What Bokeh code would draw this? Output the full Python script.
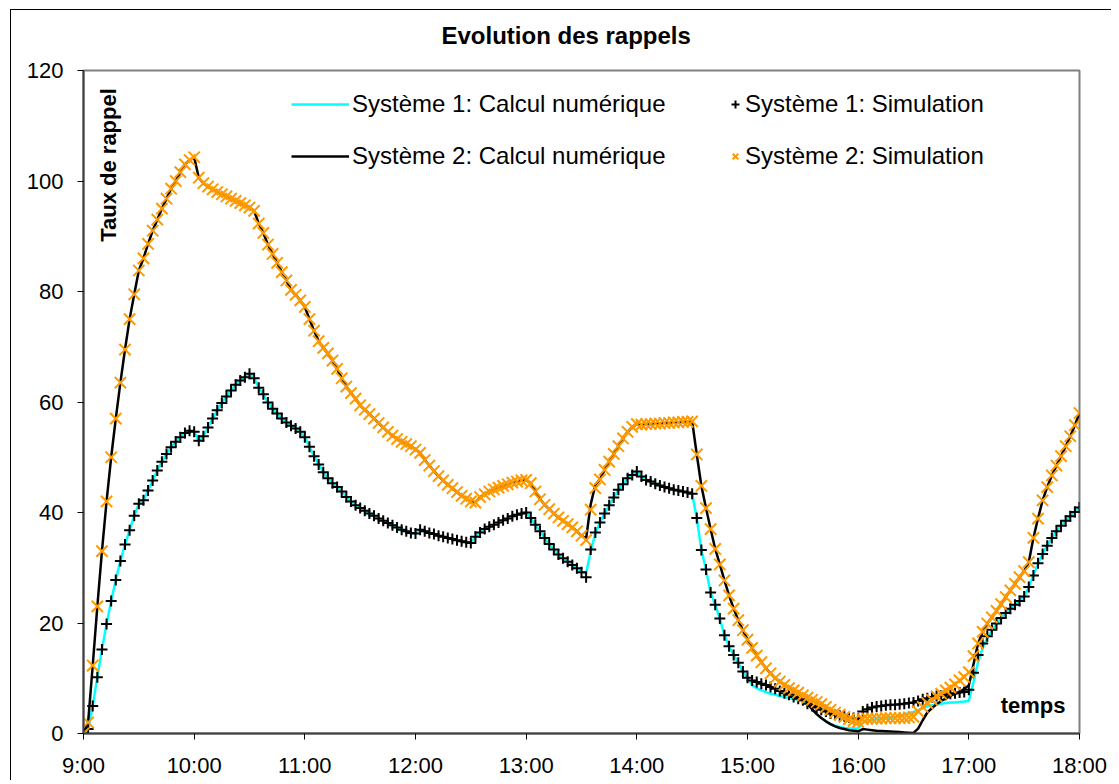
import math
from bokeh.plotting import figure
from bokeh.models import FixedTicker, Label, Legend, LegendItem
from bokeh.embed import file_html
from bokeh.resources import INLINE

# ---------------- data ----------------
STEP_MIN = 2.5          # sampling step of the simulation (minutes)
START_HOUR = 9
N_POINTS = 217
times = [START_HOUR + k * STEP_MIN / 60 for k in range(N_POINTS)]

hour_ticks = [9, 10, 11, 12, 13, 14, 15, 16, 17, 18]
hour_labels = ["9:00", "10:00", "11:00", "12:00", "13:00", "14:00", "15:00", "16:00", "17:00", "18:00"]
y_ticks = [0, 20, 40, 60, 80, 100, 120]

# Système 1 : simulation (black +)
sim1 = [
    0, 0.8, 5, 10.2, 15.2, 19.8, 24, 27.8, 31.2, 34.2,
    36.8, 39.4, 41.6, 42.2, 44, 45.8, 47.6, 49.2, 50.6, 51.8,
    52.8, 53.6, 54.4, 54.8, 54.6, 53, 53.8, 55.4, 57, 58.5,
    59.8, 61, 62.1, 63.1, 63.9, 64.5, 65.1, 64.3, 62.6, 61.4,
    59.9, 58.8, 57.9, 57, 56.3, 55.7, 55.2, 54.6, 53.6, 51.9,
    50.2, 48.7, 47.3, 46.2, 45.3, 44.6, 43.8, 42.8, 42, 41.3,
    40.8, 40.3, 39.8, 39.4, 38.9, 38.5, 38.1, 37.7, 37.3, 36.9,
    36.6, 36.3, 36.2, 36.9, 36.6, 36.3, 36.1, 35.8, 35.6, 35.4,
    35.2, 35, 34.8, 34.6, 34.5, 35.6, 36.4, 37, 37.4, 37.8,
    38.2, 38.6, 38.9, 39.3, 39.6, 39.8, 40, 39, 37.8, 36.6,
    35.4, 34.3, 33.3, 32.4, 31.7, 31.1, 30.5, 29.9, 29.2, 28.3,
    33.3, 36.4, 38.2, 39.8, 41.3, 42.7, 44.1, 45.1, 46.2, 46.8,
    47.4, 46.5, 45.9, 45.6, 45.2, 44.9, 44.6, 44.4, 44.1, 44,
    43.8, 43.6, 43.4, 39, 33.2, 29.7, 25.5, 23.3, 20.8, 17.8,
    15.8, 14.2, 12.8, 11.2, 10.1, 9.6, 9.3, 9, 8.8, 8.4,
    8.1, 7.7, 7.3, 7, 6.6, 6.3, 6, 5.4, 5, 4.7,
    4.3, 4, 3.6, 3.4, 3.2, 3.1, 2.9, 2.8, 2.7, 4,
    4.4, 4.7, 4.9, 5, 5.1, 5.2, 5.2, 5.3, 5.4, 5.5,
    5.6, 5.9, 6.2, 6.4, 6.6, 6.8, 6.9, 7, 7.2, 7.3,
    7.4, 7.5, 7.9, 11, 14.2, 16.3, 17.6, 18.8, 19.9, 20.9,
    21.8, 22.6, 23.3, 24, 24.8, 26.5, 28.6, 30.8, 32.5, 34,
    35.4, 36.6, 37.6, 38.5, 39.3, 40.1, 40.9,
]

# Système 1 : calcul numérique (cyan line)
num1 = [
    0, 0.8, 5, 10.2, 15.2, 19.8, 24, 27.8, 31.2, 34.2,
    36.8, 39.4, 41.6, 42.2, 44, 45.8, 47.6, 49.2, 50.6, 51.8,
    52.8, 53.6, 54.4, 54.8, 54.6, 53, 53.8, 55.4, 57, 58.5,
    59.8, 61, 62.1, 63.1, 63.9, 64.5, 65.1, 64.3, 62.6, 61.4,
    59.9, 58.8, 57.9, 57, 56.3, 55.7, 55.2, 54.6, 53.6, 51.9,
    50.2, 48.7, 47.3, 46.2, 45.3, 44.6, 43.8, 42.8, 42, 41.3,
    40.8, 40.3, 39.8, 39.4, 38.9, 38.5, 38.1, 37.7, 37.3, 36.9,
    36.6, 36.3, 36.2, 36.9, 36.6, 36.3, 36.1, 35.8, 35.6, 35.4,
    35.2, 35, 34.8, 34.6, 34.5, 35.6, 36.4, 37, 37.4, 37.8,
    38.2, 38.6, 38.9, 39.3, 39.6, 39.8, 40, 39, 37.8, 36.6,
    35.4, 34.3, 33.3, 32.4, 31.7, 31.1, 30.5, 29.9, 29.2, 29.0,
    33.0, 36.2, 38.2, 39.8, 41.3, 42.7, 44.1, 45.1, 46.2, 46.8,
    47.4, 46.5, 45.9, 45.6, 45.2, 44.9, 44.6, 44.4, 44.1, 44,
    43.8, 43.6, 43.4, 39, 33.2, 29.7, 25.5, 23.3, 20.8, 17.8,
    15.8, 14.2, 12.8, 11.2, 10.1, 8.8, 8.2, 7.8, 7.5, 7.2,
    7.0, 6.8, 6.6, 6.4, 6.2, 6.1, 5.9, 5.3, 4.4, 3.5,
    2.8, 2.2, 1.7, 1.4, 1.2, 1.0, 0.9, 0.9, 0.9, 2.0,
    2.3, 2.5, 2.6, 2.7, 2.8, 2.9, 3.0, 3.2, 3.4, 3.7,
    3.9, 4.2, 4.6, 4.9, 5.1, 5.3, 5.4, 5.5, 5.6, 5.6,
    5.7, 5.8, 5.9, 9.3, 12.9, 15.5, 17.3, 18.6, 19.9, 20.9,
    21.8, 22.6, 23.3, 24, 24.8, 26.5, 28.6, 30.8, 32.5, 34,
    35.4, 36.6, 37.6, 38.5, 39.3, 40.1, 40.9,
]

# Système 2 : simulation (orange x)
sim2 = [
    0, 2, 12.3, 23, 33, 42, 50, 57, 63.5, 69.5,
    75, 79.5, 83.8, 86, 88.6, 91, 93, 95, 96.8, 98.6,
    100, 101.6, 103, 103.8, 104.3, 100.6, 99.6, 99, 98.5, 98,
    97.6, 97.2, 96.8, 96.4, 96, 95.6, 95.2, 94.6, 92.3, 90.6,
    88.5, 86.8, 85.2, 83.5, 82, 80.3, 79.4, 78.4, 77.2, 75,
    72.9, 71, 69.8, 68.8, 67.5, 66, 64.3, 62.8, 61.6, 60.6,
    59.4, 58.6, 57.8, 57, 56.2, 55.4, 54.6, 53.9, 53.3, 52.8,
    52.4, 52, 51.4, 50.8, 49.5, 48.5, 47.5, 46.6, 45.8, 45,
    44.4, 43.7, 43, 42.5, 42, 41.8, 42.8, 43.3, 43.8, 44.2,
    44.5, 44.8, 45.1, 45.4, 45.6, 45.8, 45.9, 45.3, 43.8, 42.4,
    41.4, 40.6, 39.8, 39.1, 38.5, 37.9, 37.3, 36.6, 35.8, 35,
    40.5, 44.4, 46, 47.7, 49.2, 50.6, 52, 53.4, 54.6, 55.5,
    56, 55.9, 56, 56, 56.1, 56.1, 56.2, 56.2, 56.3, 56.3,
    56.4, 56.4, 56.5, 50.5, 44.8, 40.8, 37, 33.4, 30.6, 27.7,
    25, 22.6, 20.5, 18.7, 17, 15.5, 14.1, 12.9, 11.8, 10.9,
    10, 9.4, 8.8, 8.2, 7.8, 7.4, 6.9, 6.5, 6.1, 5.7,
    5.3, 4.8, 4.3, 3.8, 3.4, 3, 2.6, 2.3, 2.1, 2.6,
    2.7, 2.7, 2.7, 2.7, 2.8, 2.8, 2.8, 2.8, 2.8, 2.9,
    3.0, 4.0, 4.8, 5.5, 6.1, 6.7, 7.2, 7.8, 8.3, 8.9,
    9.6, 10.2, 11.1, 14, 16.3, 18.4, 19.9, 21, 22.2, 23.4,
    24.7, 25.9, 27.1, 28.3, 29.4, 31, 35.4, 38.9, 42.2, 44.6,
    46.7, 48.5, 50.2, 52, 53.8, 55.8, 58,
]

# Système 2 : calcul numérique (black line)
num2 = [
    0, 2, 12.3, 23, 33, 42, 50, 57, 63.5, 69.5,
    75, 79.5, 83.8, 86, 88.6, 91, 93, 95, 96.8, 98.6,
    100, 101.6, 103, 103.8, 104.3, 100.6, 99.6, 99, 98.5, 98,
    97.6, 97.2, 96.8, 96.4, 96, 95.6, 95.2, 94.6, 92.3, 90.6,
    88.5, 86.8, 85.2, 83.5, 82, 80.3, 79.4, 78.4, 77.2, 75,
    72.9, 71, 69.8, 68.8, 67.5, 66, 64.3, 62.8, 61.6, 60.6,
    59.4, 58.6, 57.8, 57, 56.2, 55.4, 54.6, 53.9, 53.3, 52.8,
    52.4, 52, 51.4, 50.8, 49.5, 48.5, 47.5, 46.6, 45.8, 45,
    44.4, 43.7, 43, 42.5, 42, 41.8, 42.8, 43.3, 43.8, 44.2,
    44.5, 44.8, 45.1, 45.4, 45.6, 45.8, 45.9, 45.3, 43.8, 42.4,
    41.4, 40.6, 39.8, 39.1, 38.5, 37.9, 37.3, 36.6, 35.8, 35.3,
    41.5, 45, 46, 47.7, 49.2, 50.6, 52, 53.4, 54.6, 55.5,
    56, 55.9, 56, 56, 56.1, 56.1, 56.2, 56.2, 56.3, 56.3,
    56.4, 56.4, 56.5, 50.5, 44.8, 40.8, 37, 33.4, 30.6, 27.7,
    25, 22.6, 20.5, 18.7, 17, 15.5, 14.1, 12.9, 11.8, 10.9,
    10, 9.4, 8.8, 8.2, 7.8, 7.4, 6.6, 5.5, 4.4, 3.5,
    2.8, 2.2, 1.7, 1.3, 1.0, 0.8, 0.6, 0.5, 0.4, 0.8,
    0.7, 0.6, 0.5, 0.45, 0.4, 0.35, 0.3, 0.25, 0.2, 0.15,
    0.1, 0.9, 2.4, 3.8, 4.6, 5.3, 5.9, 6.3, 6.8, 7.2,
    7.5, 8.1, 8.7, 12.5, 16.3, 18.4, 19.9, 21, 22.2, 23.4,
    24.7, 25.9, 27.1, 28.3, 29.4, 31, 35.4, 38.9, 42.2, 44.6,
    46.7, 48.5, 50.2, 52, 53.8, 55.8, 58,
]

FONT = "Liberation Sans"

# ---------------- figure ----------------
p = figure(
    width=1111, height=780,
    x_range=(9, 18), y_range=(0, 120),
    output_backend="svg", toolbar_location=None,
    min_border_left=83, min_border_right=32,
    min_border_top=69, min_border_bottom=45,
    title="Evolution des rappels",
)
p.background_fill_color = "white"
p.border_fill_alpha = 0
p.styles = {
    "background-color": "white",
    "box-shadow": "inset 10px 9px 0 0 white, inset 11px 10px 0 0 black",
}
p.outline_line_color = "#808080"
p.outline_line_width = 2
p.xgrid.visible = False
p.ygrid.visible = False

p.title.align = "left"
p.title.offset = 358
p.title.standoff = 41
p.title.vertical_align = "middle"
p.title.text_font = "Liberation Sans"
p.title.text_font_style = "bold"
p.title.text_font_size = "24px"
p.title.text_color = "black"

for ax in (p.xaxis[0], p.yaxis[0]):
    ax.axis_line_color = "#404040"
    ax.axis_line_width = 2
    ax.major_tick_line_color = "black"
    ax.major_tick_line_width = 1
    ax.major_tick_out = 6
    ax.major_tick_in = 0
    ax.minor_tick_line_color = None
    ax.major_label_text_font = FONT
    ax.major_label_text_font_size = "22px"
    ax.major_label_text_color = "black"

p.xaxis.major_label_standoff = 13
p.yaxis.major_label_standoff = 14

p.xaxis.ticker = FixedTicker(ticks=hour_ticks)
p.xaxis.major_label_overrides = {h: lab for h, lab in zip(hour_ticks, hour_labels)}
p.yaxis.ticker = FixedTicker(ticks=y_ticks)

# ---------------- series ----------------
r_num1 = p.line(times, num1, line_color="#00FFFF", line_width=2.5)
r_num2 = p.line(times, num2, line_color="black", line_width=2.5)
r_sim1 = p.scatter(times, sim1, marker="cross", size=11, line_color="black", line_width=2)
r_sim2 = p.scatter(times, sim2, marker="x", size=16, line_color="#FF9900", line_width=2)

# ---------------- legends ----------------
common = dict(
    padding=0, margin=0, spacing=12,
    glyph_height=40, label_height=40,
    background_fill_alpha=0, border_line_color=None,
    label_text_font=FONT, label_text_font_size="24px", label_text_color="black",
)
leg1 = Legend(items=[
    LegendItem(label="Système 1: Calcul numérique", renderers=[r_num1]),
    LegendItem(label="Système 2: Calcul numérique", renderers=[r_num2]),
], location=(208, 557), glyph_width=58, label_standoff=3, **common)
leg2 = Legend(items=[
    LegendItem(label="Système 1: Simulation", renderers=[r_sim1]),
    LegendItem(label="Système 2: Simulation", renderers=[r_sim2]),
], location=(642, 557), glyph_width=20, label_standoff=0, **common)
p.add_layout(leg1, "center")
p.add_layout(leg2, "center")

# ---------------- texts inside the plot area ----------------
p.add_layout(Label(x=9.226, y=102.9, text="Taux de rappel", angle=math.pi / 2,
                   text_align="center", text_baseline="middle", text_color="black",
                   text_font=FONT, text_font_style="bold", text_font_size="22px"))
p.add_layout(Label(x=17.873, y=5.05, text="temps",
                   text_align="right", text_baseline="middle", text_color="black",
                   text_font=FONT, text_font_style="bold", text_font_size="22px"))

open("out.html", "w").write(file_html(p, INLINE))
